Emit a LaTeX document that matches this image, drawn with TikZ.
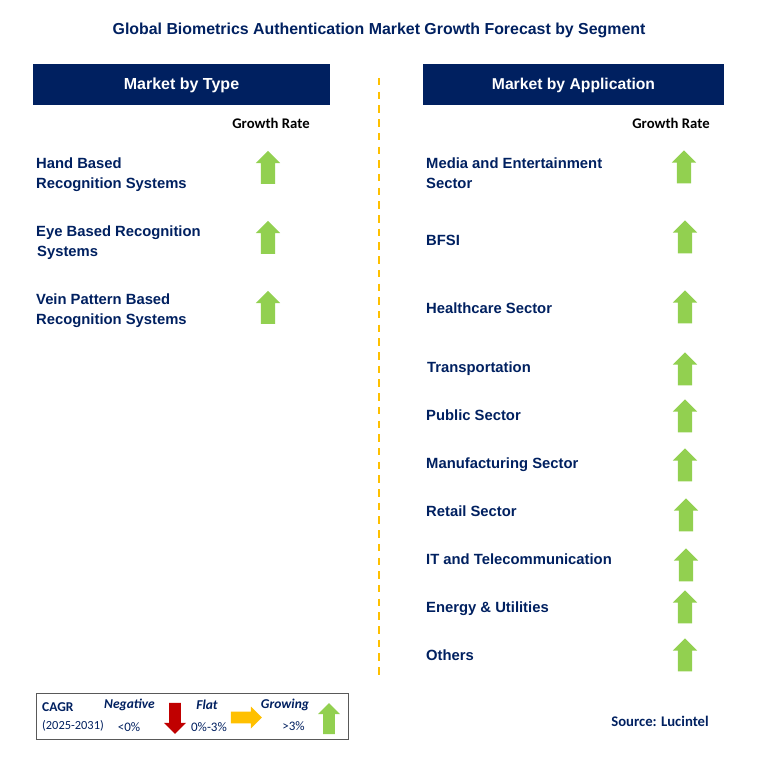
\documentclass[tikz,border=0pt]{standalone}
\usepackage{fontspec}
\setmainfont{Liberation Sans}
\newfontfamily\legendfont{Carlito}
\usetikzlibrary{shapes.arrows}
\definecolor{navy}{HTML}{002060}
\definecolor{upgreen}{HTML}{92D050}
\definecolor{flatamber}{HTML}{FFC000}
\definecolor{downred}{HTML}{C00000}
\tikzset{
    banner/.style={fill=navy, text=white, minimum height=41pt, inner sep=0pt, text height=12.6pt, text depth=2.4pt, font=\bfseries\fontsize{16}{19}\selectfont},
    segment/.style={anchor=west, align=left, inner sep=0pt, text=navy, font=\bfseries\fontsize{14.8}{20}\selectfont},
    ratehead/.style={inner sep=0pt, font=\legendfont\bfseries\fontsize{14.7}{16}\selectfont},
    bigarrow/.style={single arrow, draw=none, inner sep=7pt, minimum width=24pt, minimum height=33pt,
        single arrow head extend=5pt, single arrow tip angle=90},
    smallarrow/.style={bigarrow, inner sep=5.5pt, minimum width=22pt, minimum height=31pt},
    uparrow/.style={bigarrow, fill=upgreen, shape border rotate=90, yshift=-3.5pt},
    legendtext/.style={inner sep=0pt, text=navy, font=\legendfont\fontsize{13}{15}\selectfont},
    legendhead/.style={legendtext, font=\legendfont\bfseries\itshape\fontsize{13.5}{15}\selectfont},
}
\begin{document}
\begin{tikzpicture}[x=1pt, y=-1pt]

\useasboundingbox (0,0) rectangle (757,765);

% Title
\node[inner sep=0pt, text=navy, font=\bfseries\fontsize{15.9}{19}\selectfont] (title) at (379,30) {Global Biometrics Authentication Market Growth Forecast by Segment};

% Column banners
\node[banner, minimum width=297pt] (typehead) at (181.5,84.5) {Market by Type};
\node[banner, minimum width=301pt, font=\bfseries\fontsize{15.7}{19}\selectfont] (apphead) at (573.5,84.5) {Market by Application};
\node[ratehead] (typerate) at (271,123.5) {Growth Rate};
\node[ratehead] (apprate) at (671,123.5) {Growth Rate};

% Divider
\coordinate (divtop) at (378.5,78);
\coordinate (divbot) at (378.5,675);
\draw[flatamber, line width=2pt, dash pattern=on 7.5pt off 6.2pt] (divtop) -- (divbot);

% Type segments
\foreach \i/\ty/\ay/\label in {
    1/175/167.5/{Hand Based\\Recognition Systems},
    2/243/237.5/{Eye Based Recognition\\\hspace*{1pt}Systems},
    3/311/307.5/{Vein Pattern Based\\Recognition Systems}} {
    \node[segment] (type\i) at (36,\ty) {\label};
    \node[uparrow] (typeup\i) at (268,\ay) {};
}

% Application segments
\foreach \i/\tx/\ty/\ax/\ay/\label in {
    1/426/173/684/167/{Media and Entertainment\\Sector},
    2/426/240.5/685/237/{BFSI},
    3/426/308.5/685/307/{Healthcare Sector},
    4/427/368.5/685/369/{Transportation},
    5/426/415.5/685/416/{Public Sector},
    6/426/464.5/685/465/{Manufacturing Sector},
    7/426/511.5/686/515/{Retail Sector},
    8/426/559.5/686/565/{IT and Telecommunication},
    9/426/608.5/685/607/{Energy \& Utilities},
    10/426/655.5/685/655/{Others}} {
    \node[segment] (app\i) at (\tx,\ty) {\label};
    \node[uparrow] (appup\i) at (\ax,\ay) {};
}

% Legend
\node[draw=black!65, line width=1pt, fill=white, minimum width=312pt, minimum height=46pt, inner sep=0pt] (legend) at (192.5,716) {};
\node[legendtext, anchor=west, font=\legendfont\bfseries\fontsize{13.5}{15}\selectfont] (cagr) at (42,707) {CAGR};
\node[legendtext, anchor=west, font=\legendfont\fontsize{12.4}{14}\selectfont] (period) at (42,726) {(2025-2031)};
\node[legendhead] (neg) at (129.5,705) {Negative};
\node[legendtext] (negval) at (129,727.5) {<0\%};
\node[smallarrow, fill=downred, shape border rotate=270] (negarrow) at (175,715.5) {};
\node[legendhead] (flat) at (207,705) {Flat};
\node[legendtext] (flatval) at (209,727.5) {0\%-3\%};
\node[smallarrow, fill=flatamber] (flatarrow) at (243.5,717.5) {};
\node[legendhead] (grow) at (285,705) {Growing};
\node[legendtext] (growval) at (293.5,726) {>3\%};
\node[smallarrow, fill=upgreen, shape border rotate=90] (growarrow) at (329,721.5) {};

% Source
\node[inner sep=0pt, text=navy, font=\legendfont\bfseries\fontsize{14.7}{16}\selectfont] (source) at (660,721) {Source: Lucintel};

\end{tikzpicture}
\end{document}
